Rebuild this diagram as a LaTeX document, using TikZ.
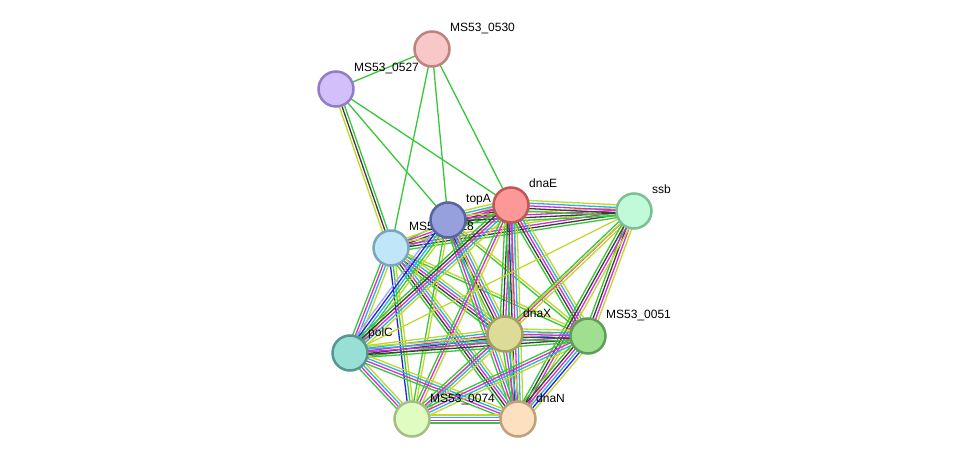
\documentclass[tikz,border=0pt]{standalone}
\usepackage{fontspec}
\setmainfont{Liberation Sans}
\usetikzlibrary{calc,backgrounds}
\definecolor{eg}{RGB}{55,200,55}
\definecolor{ek}{RGB}{60,60,60}
\definecolor{em}{RGB}{220,40,220}
\definecolor{ec}{RGB}{40,180,225}
\definecolor{ey}{RGB}{195,215,40}
\definecolor{eb}{RGB}{30,30,240}
\definecolor{el}{RGB}{165,165,245}
\definecolor{fA}{RGB}{248,200,200}\definecolor{dA}{RGB}{190,130,130}
\definecolor{fB}{RGB}{210,192,250}\definecolor{dB}{RGB}{145,125,200}
\definecolor{fH}{RGB}{192,230,250}\definecolor{dH}{RGB}{125,165,190}
\definecolor{fT}{RGB}{152,160,220}\definecolor{dT}{RGB}{85,100,165}
\definecolor{fE}{RGB}{252,152,152}\definecolor{dE}{RGB}{190,88,88}
\definecolor{fS}{RGB}{192,250,216}\definecolor{dS}{RGB}{125,190,150}
\definecolor{fP}{RGB}{152,224,214}\definecolor{dP}{RGB}{85,150,142}
\definecolor{fX}{RGB}{220,220,152}\definecolor{dX}{RGB}{165,158,95}
\definecolor{fF}{RGB}{160,222,144}\definecolor{dF}{RGB}{95,158,88}
\definecolor{fM}{RGB}{224,252,192}\definecolor{dM}{RGB}{165,190,135}
\definecolor{fN}{RGB}{252,224,192}\definecolor{dN}{RGB}{190,160,125}
\tikzset{
  prot/.style={circle, draw, line width=2.5pt, minimum size=35pt, inner sep=0pt},
  plabel/.style={anchor=base west, inner sep=0pt, font=\fontsize{12}{14}\selectfont, text=black},
  eline/.style={line width=1.3pt},
}
\newcommand\pnode[4]{%
  \node[prot, fill=f#1, draw=d#1] (#1) at (#2,#3) {};
  \node[plabel] (#1-lab) at (#2+18,#3-17) {#4};
}
\newcommand\medge[3]{%
  \foreach \c [count=\n] in {#3} {\xdef\ncount{\n}}%
  \foreach \c [count=\i] in {#3} {%
    \pgfmathsetmacro\off{(\i-(\ncount+1)/2)*2.7}%
    \draw[eline, draw=\c] ($(#1)!\off pt!90:(#2)$) -- ($(#2)!\off pt!-90:(#1)$);
  }%
}
\begin{document}
\begin{tikzpicture}[x=1pt,y=-1pt]
\useasboundingbox (0,0) rectangle (975,465);
% nodes
\pnode{A}{432}{49}{MS53\_0530}
\pnode{B}{336}{89}{MS53\_0527}
\pnode{H}{391}{248}{MS53\_0528}
\pnode{T}{448}{220}{topA}
\pnode{E}{511}{205}{dnaE}
\pnode{S}{634}{211}{ssb}
\pnode{P}{350}{353}{polC}
\pnode{X}{505}{334}{dnaX}
\pnode{F}{588}{336}{MS53\_0051}
\pnode{M}{412}{419}{MS53\_0074}
\pnode{N}{518}{419}{dnaN}
\begin{pgfonlayer}{background}
\fill[white] (0,0) rectangle (975,465);
\medge{A}{B}{eg}
\medge{A}{H}{eg}
\medge{A}{T}{eg}
\medge{A}{E}{eg}
\medge{B}{H}{ey,ek,eg}
\medge{B}{T}{eg}
\medge{B}{E}{eg}
\medge{H}{T}{eg}
\medge{H}{E}{eg,ek,em,ey}
\medge{H}{S}{eg,ek,em,ey}
\medge{T}{E}{eg,ek,em,ec,ey}
\medge{T}{S}{eg,ek,em,ey}
\medge{E}{S}{eg,ek,em,ec,ey}
\medge{H}{P}{eg,em,ec,ey}
\medge{H}{M}{eb,eg,ey}
\medge{H}{X}{eg,ek,em,ec,ey}
\medge{H}{N}{eg,ek,em,ec,ey}
\medge{H}{F}{eg,ey}
\medge{T}{P}{el,eb,ec,eg,ey}
\medge{T}{M}{eg,ey}
\medge{T}{X}{eg,ek,em,ec,ey}
\medge{T}{N}{eg,em,ec,ey}
\medge{T}{F}{eg,ey}
\medge{E}{P}{eg,ek,em,ec,ey}
\medge{E}{X}{eg,ek,em,ec,ey}
\medge{E}{N}{eg,ek,em,ec,ey}
\medge{E}{M}{eg,em,ey}
\medge{E}{F}{eg,ek,em,ec,ey}
\medge{S}{X}{eg,em,ey}
\medge{S}{F}{eg,ek,em,ey}
\medge{S}{N}{eg,ek,em,ey}
\medge{S}{M}{ey}
\medge{S}{P}{ey}
\medge{P}{X}{eg,ek,em,ec,ey}
\medge{P}{F}{eg,ek,em,ec,ey}
\medge{P}{M}{eg,em,ec,ey}
\medge{P}{N}{eg,em,ec,ey}
\medge{X}{F}{eg,ek,em,ec,ey}
\medge{X}{M}{eg,em,ec,ey}
\medge{X}{N}{eg,em,ec,ey}
\medge{F}{M}{eg,em,ec,ey}
\medge{F}{N}{eg,ek,em,ec,eb,ey}
\medge{M}{N}{eg,em,ec,ey}
\end{pgfonlayer}
\end{tikzpicture}
\end{document}
